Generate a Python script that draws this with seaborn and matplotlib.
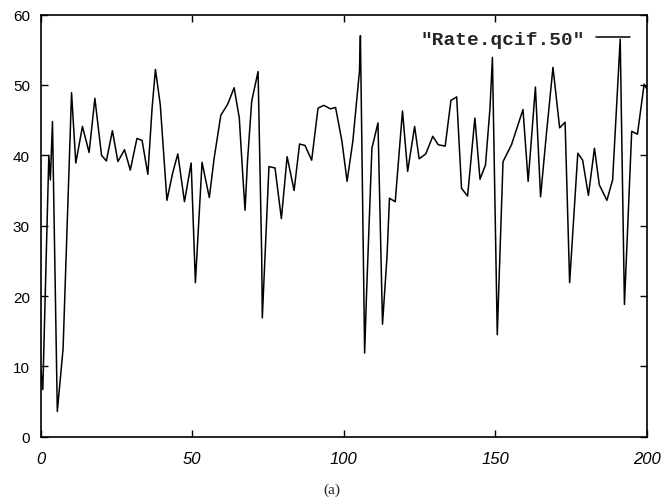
import pandas as pd
import seaborn as sns
import matplotlib.pyplot as plt

# frame positions / rate values
frame = [0, 0.6, 2.6, 3.1, 3.8, 5.4, 7.3, 10.1, 11.5, 13.7, 15.9, 17.8, 20, 21.6,
         23.6, 25.4, 27.6, 29.5, 31.7, 33.4, 35.3, 36.7, 37.8, 39.4, 41.6, 43.5,
         45.2, 47.4, 49.6, 51, 53.2, 55.6, 57.2, 59.4, 61.6, 63.8, 65.5, 66.5,
         67.4, 68.2, 69.6, 71.7, 72.9, 73.1, 75.3, 77.3, 79.4, 81.3, 83.6, 85.4,
         87.2, 89.4, 91.5, 93.4, 95.6, 97.3, 99.4, 101.1, 103, 105.2, 105.5,
         106.9, 107.5, 109.3, 111.3, 112.8, 114.3, 115.1, 117, 119.4, 121.1,
         123.4, 124.9, 127.1, 129.4, 131.2, 133.5, 135.4, 137.3, 138.9, 140.9,
         143.3, 145, 146.8, 148.3, 149.1, 150.7, 152.6, 155.4, 159.2, 160.9,
         163.3, 165, 166.9, 169.1, 171.3, 173.1, 174.6, 177.3, 178.9, 180.8,
         182.8, 184.4, 186.9, 188.8, 191.3, 192.7, 195.1, 197, 199.2, 200]
rate = [9.5, 6.7, 40, 36.5, 44.8, 3.6, 12.5, 48.9, 38.9, 44.1, 40.4, 48.1, 40, 39.2,
        43.5, 39.1, 40.8, 37.9, 42.4, 42.1, 37.3, 46.7, 52.2, 47.2, 33.6, 37.5,
        40.2, 33.4, 38.9, 21.9, 39, 34, 39.6, 45.7, 47.2, 49.6, 45.3, 38.2,
        32.2, 39.1, 47.7, 51.9, 25.7, 16.9, 38.4, 38.2, 31, 39.8, 35, 41.6,
        41.4, 39.3, 46.7, 47.1, 46.6, 46.8, 42, 36.3, 42, 52, 57,
        11.9, 20, 41, 44.6, 16, 25.7, 33.9, 33.4, 46.3, 37.7,
        44.1, 39.5, 40.2, 42.7, 41.5, 41.3, 47.8, 48.3, 35.3, 34.2,
        45.3, 36.6, 38.6, 46.7, 53.9, 14.5, 39.1, 41.5, 46.5, 36.3,
        49.7, 34.1, 42.9, 52.5, 43.9, 44.7, 21.9, 40.3, 39.3, 34.3,
        41, 35.8, 33.6, 36.5, 56.5, 18.8, 43.4, 43, 50.1, 49.5]
x_ticks = [0, 50, 100, 150, 200]
y_ticks = [0, 10, 20, 30, 40, 50, 60]
series_name = '"Rate.qcif.50"'

df = pd.DataFrame({"frame": frame, "rate": rate})

sns.set_theme(style="white")
plt.rcParams['font.family'] = ['Liberation Sans', 'DejaVu Sans']

fig = plt.figure(figsize=(6.64, 5.02), dpi=100)
ax = fig.add_axes([0.0617, 0.128, 0.912, 0.841])

sns.lineplot(data=df, x="frame", y="rate", color="black", linewidth=1.1,
             label=series_name, ax=ax, estimator=None, sort=False)

ax.set_xlim(0, 200)
ax.set_ylim(0, 60)
ax.set_xticks(x_ticks)
ax.set_yticks(y_ticks)
ax.set_xlabel("")
ax.set_ylabel("")
for s in ax.spines.values():
    s.set_color("black")
    s.set_linewidth(1.2)
ax.tick_params(direction="in", length=5, width=1, color="black",
               top=True, right=True, bottom=True, left=True)
ax.tick_params(axis="y", labelsize=11, pad=8, labelcolor="black")
ax.tick_params(axis="x", labelsize=12, pad=10, labelcolor="black")
for lab in ax.get_xticklabels():
    lab.set_fontstyle("italic")

leg = ax.legend(loc="upper right", bbox_to_anchor=(0.972, 0.962), frameon=False,
                markerfirst=False, handlelength=1.75, handletextpad=0.55,
                borderpad=0, borderaxespad=0,
                prop={"family": "Liberation Mono", "size": 14, "weight": "bold"})

fig.text(0.5, 0.024, "(a)", ha="center", va="center",
         family="Liberation Serif", fontsize=11)

fig.savefig("out.png", dpi=100)
